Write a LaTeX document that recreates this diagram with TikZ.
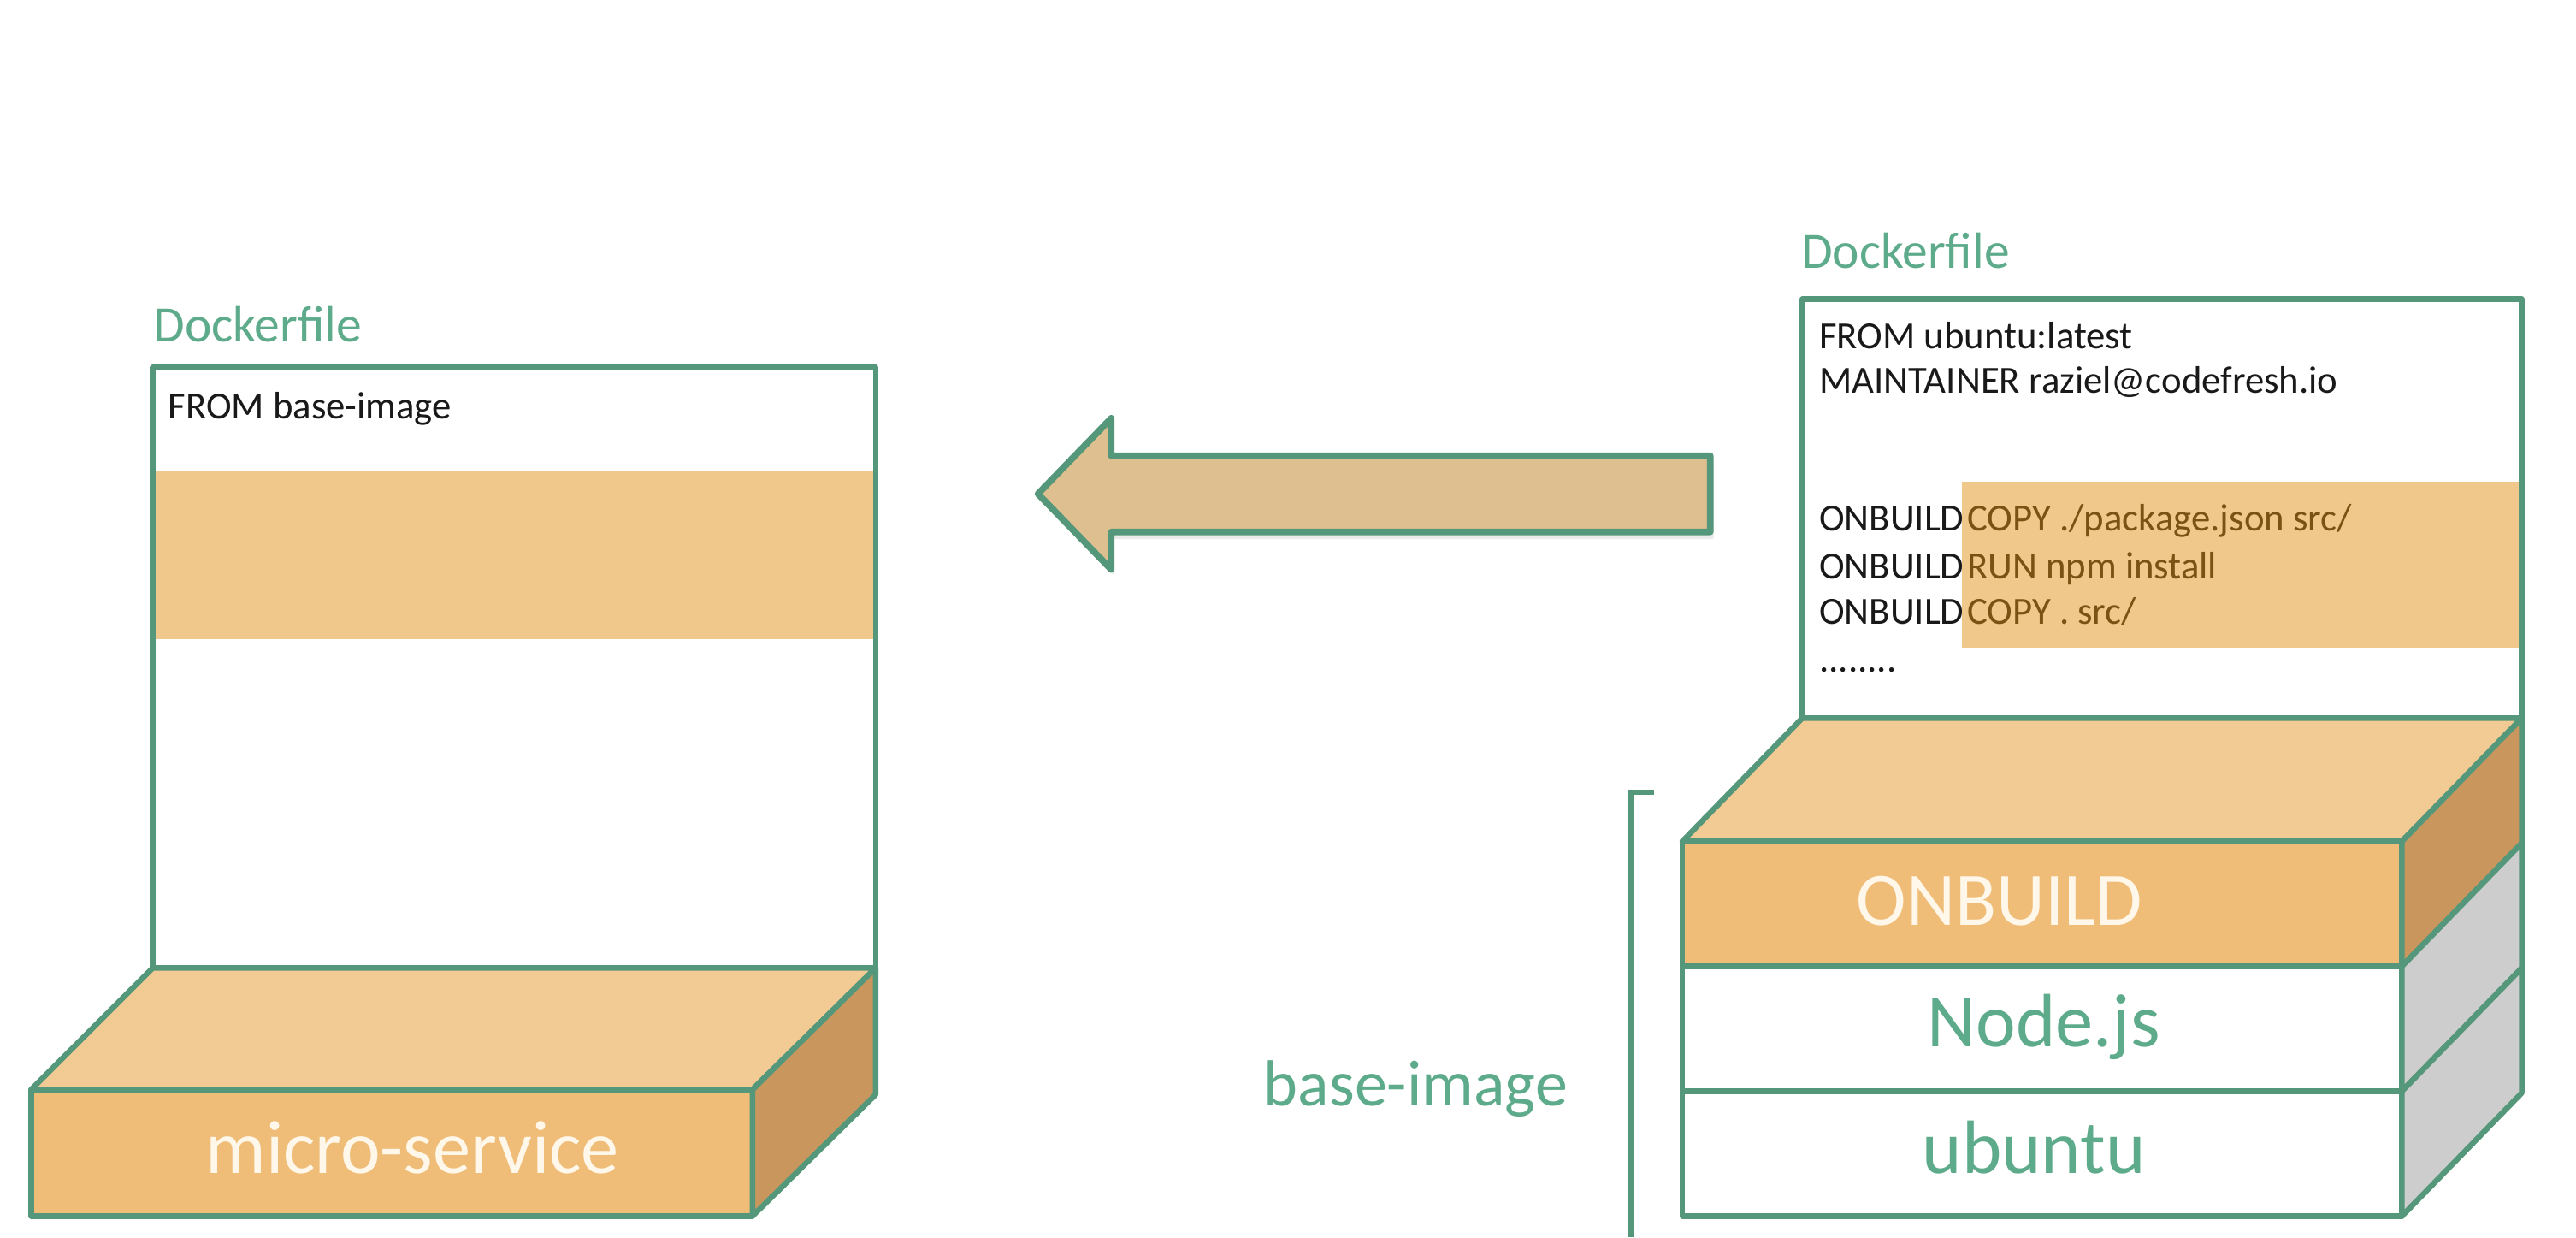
\documentclass[tikz,border=0pt]{standalone}
\usepackage{fontspec}
\setmainfont{Carlito}
\definecolor{lgreen}{HTML}{55977A}
\definecolor{tgreen}{HTML}{5DAB8B}
\definecolor{topor}{HTML}{F2CA93}
\definecolor{frontor}{HTML}{EFBD78}
\definecolor{sideor}{HTML}{C9975E}
\definecolor{sidegr}{HTML}{CDCDCD}
\definecolor{bandor}{HTML}{F0C88C}
\definecolor{arrowfill}{HTML}{DEBF8F}
\definecolor{codebrown}{HTML}{7A5214}
\definecolor{cream}{HTML}{FFF8EA}
\tikzset{
  edge/.style={draw=lgreen, line width=1.7pt, line join=round},
  code/.style={anchor=base west, inner sep=0pt, text=black!90, font=\fontsize{11.65}{14}\selectfont},
  hcode/.style={code, text=codebrown},
  lbl/.style={anchor=base west, inner sep=0pt, text=tgreen, font=\fontsize{15.5}{18}\selectfont},
  big/.style={anchor=base, inner sep=0pt, font=\fontsize{23}{27}\selectfont},
}
\begin{document}
\begin{tikzpicture}[x=0.5pt, y=-0.5pt]
\useasboundingbox (0,0) rectangle (1568,752.8);

% ---------- left Dockerfile ----------
\node[lbl] (dl) at (93,208) {Dockerfile};
\fill[bandor] (93,287) rectangle (533,389);
\draw[edge] (93,589) -- (93,223.5) -- (533,223.5) -- (533,589);
\node[code] (lf) at (102,255) {FROM base-image};

% micro-service slab
\coordinate (msbl) at (93,589);
\coordinate (msbr) at (533,589);
\coordinate (msfl) at (19,663);
\coordinate (msfr) at (458,663);
\coordinate (msdl) at (19,740);
\coordinate (msdr) at (458,740);
\coordinate (msrr) at (533,666);
\filldraw[edge, fill=topor] (msbl) -- (msbr) -- (msfr) -- (msfl) -- cycle;
\filldraw[edge, fill=frontor] (msfl) rectangle (msdr);
\filldraw[edge, fill=sideor] (msfr) -- (msbr) -- (msrr) -- (msdr) -- cycle;
\node[big, text=cream] (ms) at (251,714) {micro-service};

% ---------- arrow ----------
\fill[black, opacity=0.08] (1043,281) -- (678,281) -- (678,258) -- (634,304) -- (678,350) -- (678,328) -- (1043,328) -- cycle;
\filldraw[edge, line width=2pt, fill=arrowfill] (1041,277.3) -- (676.4,277.3) -- (676.4,254.5) -- (631.8,300.5) -- (676.4,346.5) -- (676.4,323.7) -- (1041,323.7) -- cycle;

% ---------- right Dockerfile ----------
\node[lbl] (dr) at (1096,163) {Dockerfile};
\fill[bandor] (1194,293) rectangle (1535,394);
\draw[edge] (1097,437) -- (1097,182) -- (1535,182) -- (1535,437);
\node[code] (r1) at (1107,212) {FROM ubuntu:latest};
\node[code] (r2) at (1107,239) {MAINTAINER raziel@codefresh.io};
\node[code] (r3) at (1107,323) {ONBUILD};
\node[hcode] (r3b) at (1197,323) {COPY ./package.json src/};
\node[code] (r4) at (1107,352) {ONBUILD};
\node[hcode] (r4b) at (1197,352) {RUN npm install};
\node[code] (r5) at (1107,380) {ONBUILD};
\node[hcode] (r5b) at (1197,380) {COPY . src/};
\node[code] (r6) at (1107,409) {........};

% stack
\coordinate (sbl) at (1097,437);
\coordinate (sbr) at (1535,437);
\coordinate (s1l) at (1024,512);
\coordinate (s1r) at (1462,512);
\coordinate (s2l) at (1024,588);
\coordinate (s2r) at (1462,588);
\coordinate (s3l) at (1024,664);
\coordinate (s3r) at (1462,664);
\coordinate (s4l) at (1024,740);
\coordinate (s4r) at (1462,740);
\coordinate (q1) at (1535,513);
\coordinate (q2) at (1535,589);
\coordinate (q3) at (1535,665);
\filldraw[edge, fill=topor] (sbl) -- (sbr) -- (s1r) -- (s1l) -- cycle;
\filldraw[edge, fill=frontor] (s1l) rectangle (s2r);
\filldraw[edge, fill=white] (s2l) rectangle (s3r);
\filldraw[edge, fill=white] (s3l) rectangle (s4r);
\filldraw[edge, fill=sideor] (s1r) -- (sbr) -- (q1) -- (s2r) -- cycle;
\filldraw[edge, fill=sidegr] (s2r) -- (q1) -- (q2) -- (s3r) -- cycle;
\filldraw[edge, fill=sidegr] (s3r) -- (q2) -- (q3) -- (s4r) -- cycle;
\node[big, text=cream] (ob) at (1217,563) {ONBUILD};
\node[big, text=tgreen] (nj) at (1244,637) {Node.js};
\node[big, text=tgreen] (ub) at (1238,714) {ubuntu};

% bracket + label
\coordinate (bt) at (1007,482);
\coordinate (bc) at (993,482);
\coordinate (bb) at (993,752.8);
\draw[lgreen, line width=1.7pt] (bt) -- (bc) -- (bb);
\node[anchor=base west, inner sep=0pt, text=tgreen, font=\fontsize{19.8}{24}\selectfont] (bi) at (769,673) {base-image};
\end{tikzpicture}
\end{document}
